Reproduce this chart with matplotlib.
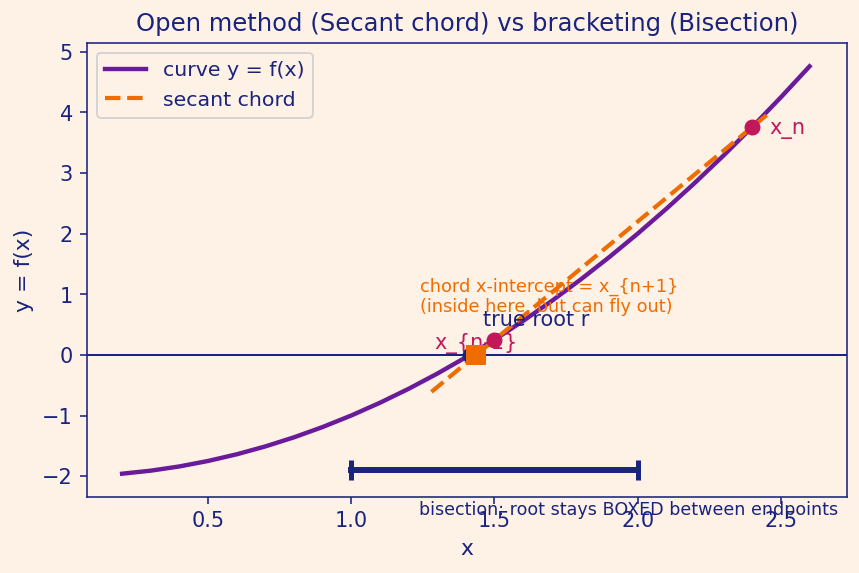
import matplotlib
matplotlib.use('Agg')
import matplotlib.pyplot as plt

# curve y = f(x) sampled points
curve_x = [0.2, 0.3, 0.4, 0.5, 0.6, 0.7, 0.8, 0.9, 1.0, 1.1, 1.2, 1.3, 1.4,
           1.5, 1.6, 1.7, 1.8, 1.9, 2.0, 2.1, 2.2, 2.3, 2.4, 2.5, 2.6]
curve_y = [-1.96, -1.91, -1.84, -1.75, -1.64, -1.51, -1.36, -1.19, -1.0, -0.79,
           -0.56, -0.31, -0.04, 0.25, 0.56, 0.89, 1.24, 1.61, 2.0, 2.41,
           2.84, 3.29, 3.76, 4.25, 4.76]

# secant chord end points
chord_x = [1.28, 2.45]
chord_y = [-0.61, 3.955]

# iterates
x_prev, f_prev = 1.5, 0.25
x_n, f_n = 2.4, 3.76
x_next = 1.436
root = 1.4142

# bisection bracket
bracket_x = [1.0, 2.0]
bracket_y = [-1.9, -1.9]

bg = '#fef1e6'
navy = '#1a237e'
purple = '#6a1b9a'
orange = '#ef6c00'
crimson = '#c2185b'

fig, ax = plt.subplots(figsize=(6, 4), dpi=143.33)
fig.patch.set_facecolor(bg)
ax.set_facecolor(bg)

ax.plot(curve_x, curve_y, color=purple, lw=2.2, label='curve y = f(x)')
ax.plot(chord_x, chord_y, color=orange, lw=2.1, ls='--', label='secant chord')
ax.axhline(0, color=navy, lw=1.0)

ax.plot([x_prev, x_n], [f_prev, f_n], 'o', color=crimson, ms=7, zorder=5)
ax.text(x_prev - 0.21, f_prev - 0.05, 'x_{n-1}', color=crimson, fontsize=10.5, va='center')
ax.text(x_n + 0.06, f_n - 0.03, 'x_n', color=crimson, fontsize=10.5, va='center')

ax.plot([root], [0], 'o', color=navy, ms=7, zorder=5)
ax.plot([x_next], [0], 's', color=orange, ms=9, zorder=6)
ax.text(root + 0.045, 0.58, 'true root r', color=navy, fontsize=10.5, va='center')
ax.text(1.24, 0.96, 'chord x-intercept = x_{n+1}\n(inside here, but can fly out)',
        color=orange, fontsize=8.9, va='center', linespacing=1.1)

ax.plot(bracket_x, bracket_y, color=navy, lw=3, marker='|', ms=10, mew=2.5)
ax.text(1.235, -2.4, 'bisection: root stays BOXED between endpoints',
        color=navy, fontsize=8.8, va='top', clip_on=False)

ax.set_xlim(0.077, 2.731)
ax.set_ylim(-2.34, 5.15)
ax.set_title('Open method (Secant chord) vs bracketing (Bisection)', color=navy,
             fontsize=12.2, pad=6)
ax.set_xlabel('x', color=navy, fontsize=11)
ax.set_ylabel('y = f(x)', color=navy, fontsize=11)
ax.tick_params(colors=navy, labelsize=10.5)
for s in ax.spines.values():
    s.set_color(navy)

leg = ax.legend(loc='upper left', fontsize=10.3, labelcolor=navy)
leg.get_frame().set_facecolor(bg)

fig.subplots_adjust(left=0.101, right=0.985, top=0.925, bottom=0.133)
plt.savefig('out.png', facecolor=bg)
